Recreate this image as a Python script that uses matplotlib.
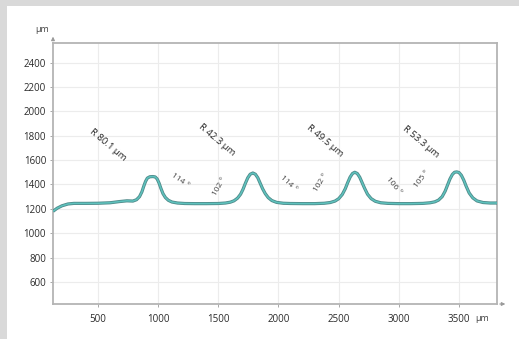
import matplotlib
matplotlib.use("Agg")
import matplotlib.pyplot as plt
from matplotlib.patches import Rectangle

# Surface profile (position in µm, height in µm)
profile_x = [126, 160, 200, 250, 300, 400, 500, 600, 680, 740, 790, 820, 845, 865, 880,
             895, 910, 930, 955, 975, 992, 1008, 1022, 1040, 1060, 1085, 1115, 1160, 1220,
             1300, 1400, 1500, 1560, 1600, 1630, 1660, 1685, 1705, 1725, 1745, 1765, 1787,
             1808, 1828, 1848, 1868, 1890, 1915, 1945, 1985, 2040, 2100, 2200, 2300, 2380,
             2430, 2470, 2500, 2530, 2555, 2575, 2595, 2615, 2634, 2655, 2675, 2695, 2715,
             2740, 2770, 2805, 2850, 2910, 3000, 3100, 3200, 3260, 3300, 3330, 3360, 3385,
             3405, 3425, 3445, 3463, 3481, 3500, 3520, 3540, 3560, 3585, 3615, 3650, 3700,
             3760, 3816]
profile_y = [1180, 1205, 1225, 1240, 1245, 1245, 1246, 1250, 1260, 1266, 1264, 1275, 1300, 1340, 1385,
             1425, 1452, 1463, 1465, 1462, 1445, 1410, 1370, 1325, 1293, 1270, 1256, 1248, 1244,
             1243, 1243, 1244, 1248, 1255, 1266, 1288, 1320, 1360, 1410, 1455, 1484, 1494,
             1484, 1455, 1410, 1365, 1325, 1292, 1268, 1253, 1246, 1244, 1243, 1243, 1246,
             1252, 1264, 1283, 1318, 1365, 1415, 1460, 1490, 1500, 1490, 1460, 1415, 1370,
             1320, 1284, 1262, 1250, 1245, 1243, 1243, 1245, 1250, 1258, 1272, 1300, 1345,
             1395, 1445, 1482, 1500, 1503, 1498, 1475, 1435, 1385, 1330, 1290, 1265, 1252,
             1248, 1248]

# Fillet radius labels
radius_x = [583, 1488, 2385, 3183]
radius_y = [1726, 1767, 1759, 1750]
radius_text = ["R 80.1 µm", "R 42.3 µm", "R 49.5 µm", "R 53.3 µm"]

# Flank angle labels
angle_x = [1181, 1513, 2086, 2352, 2958, 3191]
angle_y = [1430, 1380, 1405, 1413, 1389, 1446]
angle_text = ["114 °", "102 °", "114 °", "102 °", "106 °", "105 °"]
angle_rot = [-35, 60, -42, 58, -50, 52]

x_ticks = [500, 1000, 1500, 2000, 2500, 3000, 3500]
y_ticks = [600, 800, 1000, 1200, 1400, 1600, 1800, 2000, 2200, 2400]

plt.rcParams["font.family"] = ["Open Sans", "DejaVu Sans"]

W, H = 519, 339
fig = plt.figure(figsize=(W / 100, H / 100), dpi=100, facecolor="#d9d9d9")
fig.patches.append(Rectangle((7 / W, 0), 1 - 7 / W, 1 - 6 / H, transform=fig.transFigure,
                             facecolor="white", edgecolor="none", zorder=-5))

ax = fig.add_axes([53 / W, 35 / H, (497 - 53) / W, (304 - 43) / H])
ax.set_facecolor("white")
ax.set_xlim(126, 3816)
ax.set_ylim(420, 2560)

ax.set_xticks(x_ticks)
ax.set_yticks(y_ticks)
ax.set_xticklabels([str(v) for v in x_ticks])
ax.set_yticklabels([str(v) for v in y_ticks])
ax.tick_params(axis="both", labelsize=7, colors="#9a9a9a", labelcolor="#2a2a2a",
               length=2, width=0.6)
ax.tick_params(axis="x", pad=5)
ax.tick_params(axis="y", pad=3)
ax.grid(True, color="#ececec", linewidth=0.8)
ax.set_axisbelow(True)

for side in ["left", "bottom", "top", "right"]:
    ax.spines[side].set_color("#b4b4b4")
    ax.spines[side].set_linewidth(1.3)

# Axis arrows and units
ax.annotate("", xy=(0, 1.035), xytext=(0, 1.0), xycoords="axes fraction",
            arrowprops=dict(arrowstyle="-|>", color="#9a9a9a", lw=0.8,
                            mutation_scale=5), annotation_clip=False)
ax.annotate("", xy=(1.025, 0), xytext=(1.0, 0), xycoords="axes fraction",
            arrowprops=dict(arrowstyle="-|>", color="#9a9a9a", lw=0.8,
                            mutation_scale=5), annotation_clip=False)
ax.text(-0.008, 1.035, "µm", transform=ax.transAxes, fontsize=6.5, color="#444444",
        ha="right", va="bottom")
ax.text(0.952, -0.037, "µm", transform=ax.transAxes, fontsize=6.5, color="#444444",
        ha="left", va="top")

# Profile line: dark edge with teal core
ax.plot(profile_x, profile_y, color="#4f8a8a", linewidth=2.3, solid_capstyle="butt", zorder=3)
ax.plot(profile_x, profile_y, color="#5ec2bd", linewidth=1.1, solid_capstyle="butt", zorder=4)

for x, y, t in zip(radius_x, radius_y, radius_text):
    ax.text(x, y, t, rotation=-40, fontsize=6.8, color="#222222",
            ha="center", va="center", rotation_mode="anchor", zorder=5)

for x, y, t, r in zip(angle_x, angle_y, angle_text, angle_rot):
    ax.text(x, y, t, rotation=r, fontsize=6, color="#444444",
            ha="center", va="center", rotation_mode="anchor", zorder=5)

fig.savefig("out.png", dpi=100, facecolor=fig.get_facecolor())
